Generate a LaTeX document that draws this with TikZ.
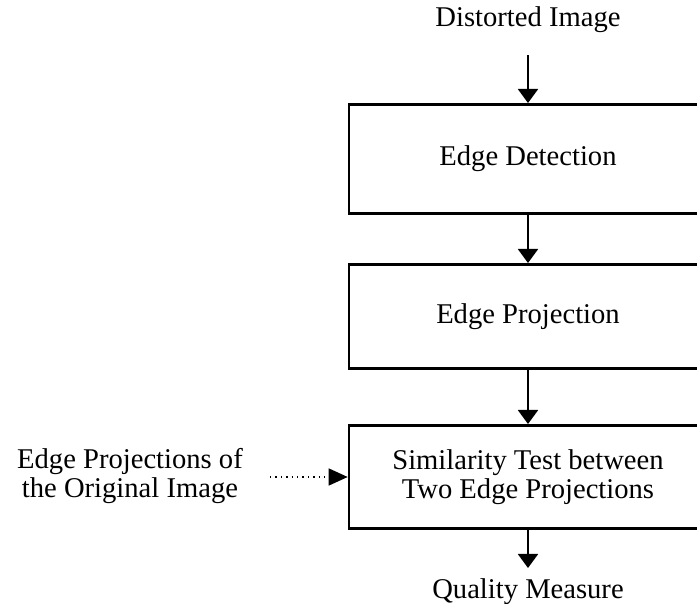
\documentclass[tikz,border=0pt]{standalone}
\usepackage{fontspec}
\setmainfont{Liberation Serif}
\usetikzlibrary{arrows.meta, positioning}
\tikzset{
  arrowK/.style={-{Triangle[length=7pt, width=10pt]}, black, line width=1pt},
  arrowDot/.style={-{Triangle[length=9.5pt, width=8.5pt]}, black, line width=0.7pt, dotted},
  boxStep/.style={rectangle, draw=black, line width=1.3pt, fill=white,
                  align=center, minimum width=179pt, minimum height=52pt, inner sep=2pt},
  lbl/.style={align=center, inner sep=0pt},
}

\begin{document}
\begin{tikzpicture}[x=0.5pt, y=-0.5pt, font=\fontsize{14.3}{14.5}\selectfont, node distance=26pt]
    \useasboundingbox (0,0) rectangle (697,604);
    \node[lbl] (in) at (528,20) {Distorted Image};
    \node[boxStep, minimum height=54.5pt, anchor=north] (b1) at (528,103) {Edge Detection};
    \node[boxStep, below=24.2pt of b1] (b2) {Edge Projection};
    \node[boxStep, below=27.2pt of b2, minimum height=51.5pt] (b3) {Similarity Test between\\Two Edge Projections};
    \node[lbl] (out) at (528,592) {Quality Measure};
    \node[lbl] (orig) at (130,476) {Edge Projections of\\the Original Image};
    \coordinate (inT) at (528,55);
    \coordinate (origE) at (270,477);
    \coordinate (outT) at (528,568);
    \draw[arrowK] (inT)--(b1.north); \draw[arrowK] (b1)--(b2); \draw[arrowK] (b2)--(b3);
    \draw[arrowK] (b3.south)--(outT);
    \draw[arrowDot] (origE)--(origE -| b3.west);
  \end{tikzpicture}
\end{document}
